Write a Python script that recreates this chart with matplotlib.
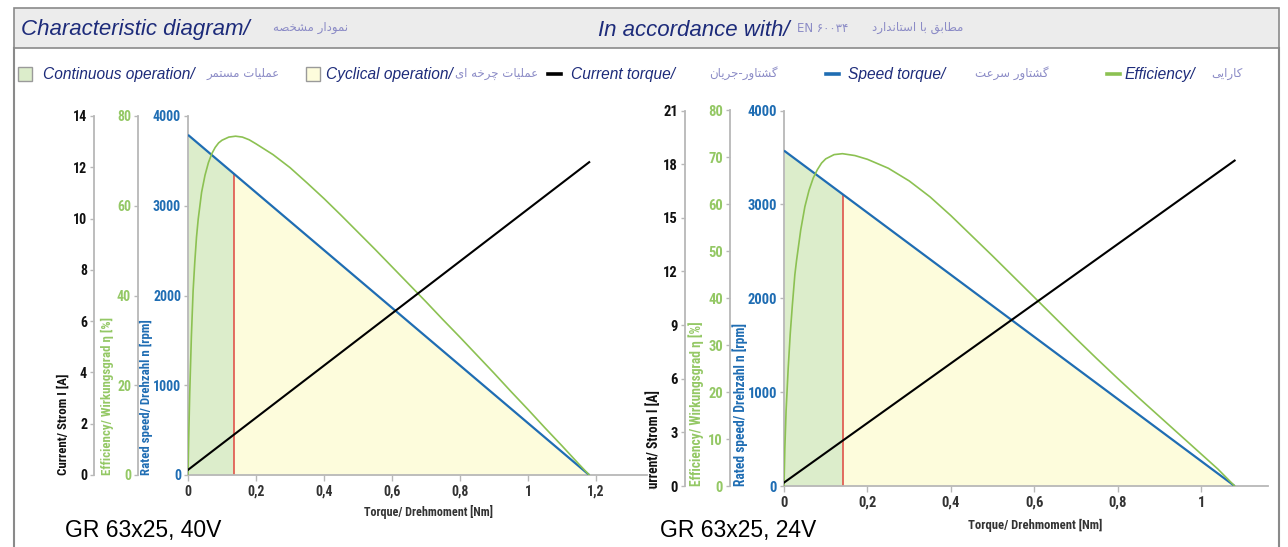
import matplotlib
matplotlib.use('Agg')
import matplotlib.pyplot as plt
import numpy as np
from matplotlib.patches import Rectangle
from matplotlib.lines import Line2D
from matplotlib.transforms import Bbox

# ---------------- data ----------------
# GR 63x25, 40V
speed_T_40 = [0, 1.18]
speed_40 = [3790, 0]
current_T_40 = [0, 1.18]
current_40 = [0.2, 12.2]
eff_T_40 = [0, 0.002, 0.005, 0.01, 0.015, 0.02, 0.025, 0.03, 0.04, 0.05, 0.06, 0.07, 0.08, 0.09,
            0.1, 0.12, 0.14, 0.16, 0.18, 0.2, 0.25, 0.3, 0.35, 0.4, 0.45, 0.5, 0.55, 0.6,
            0.65, 0.7, 0.75, 0.8, 0.85, 0.9, 0.95, 1.0, 1.05, 1.1, 1.15, 1.18]
eff_40 = [0, 8, 18, 31, 41, 47.5, 53, 57, 63, 66.8, 69.6, 71.6, 73, 74,
          74.6, 75.3, 75.5, 75.3, 74.7, 73.8, 71.4, 68.5, 65.1, 61.6, 57.9, 54.1, 50.3, 46.4,
          42.5, 38.6, 34.6, 30.7, 26.7, 22.7, 18.6, 14.6, 10.5, 6.5, 2.4, 0]
red_T_40 = 0.135

# GR 63x25, 24V
speed_T_24 = [0, 1.08]
speed_24 = [3573, 0]
current_T_24 = [0, 1.08]
current_24 = [0.19, 18.2]
eff_T_24 = [0, 0.002, 0.005, 0.01, 0.015, 0.02, 0.026, 0.03, 0.04, 0.05, 0.06, 0.07, 0.08, 0.09,
            0.1, 0.12, 0.14, 0.17, 0.2, 0.25, 0.3, 0.35, 0.4, 0.45, 0.5, 0.55, 0.6, 0.65,
            0.7, 0.75, 0.8, 0.85, 0.9, 0.95, 1.0, 1.04, 1.08]
eff_24 = [0, 8, 16, 25, 32.5, 38.5, 45, 48, 54.5, 59.5, 63, 65.6, 67.4, 68.8,
          69.7, 70.6, 70.8, 70.4, 69.6, 67.7, 65.0, 61.6, 57.6, 53.3, 49.0, 44.6, 40.2, 35.8,
          31.4, 27.1, 22.9, 18.8, 14.8, 10.8, 6.8, 3.6, 0]
red_T_24 = 0.142

x_ticks_40 = [0, 0.2, 0.4, 0.6, 0.8, 1.0, 1.2]
x_labels_40 = ['0', '0,2', '0,4', '0,6', '0,8', '1', '1,2']
x_ticks_24 = [0, 0.2, 0.4, 0.6, 0.8, 1.0]
x_labels_24 = ['0', '0,2', '0,4', '0,6', '0,8', '1']
speed_ticks = [0, 1000, 2000, 3000, 4000]
eff_ticks_40 = [0, 20, 40, 60, 80]
eff_ticks_24 = [0, 10, 20, 30, 40, 50, 60, 70, 80]
cur_ticks_40 = [0, 2, 4, 6, 8, 10, 12, 14]
cur_ticks_24 = [0, 3, 6, 9, 12, 15, 18, 21]

# ---------------- persian shaping (presentation forms, visual order) ----------------
FORMS = {
    'ا': ('\uFE8D', '\uFE8E'), 'د': ('\uFEA9', '\uFEAA'), 'ر': ('\uFEAD', '\uFEAE'),
    'و': ('\uFEED', '\uFEEE'),
    'ب': ('\uFE8F', '\uFE90', '\uFE91', '\uFE92'), 'ت': ('\uFE95', '\uFE96', '\uFE97', '\uFE98'),
    'ج': ('\uFE9D', '\uFE9E', '\uFE9F', '\uFEA0'), 'چ': ('\uFB7A', '\uFB7B', '\uFB7C', '\uFB7D'),
    'خ': ('\uFEA5', '\uFEA6', '\uFEA7', '\uFEA8'), 'س': ('\uFEB1', '\uFEB2', '\uFEB3', '\uFEB4'),
    'ش': ('\uFEB5', '\uFEB6', '\uFEB7', '\uFEB8'), 'ص': ('\uFEB9', '\uFEBA', '\uFEBB', '\uFEBC'),
    'ط': ('\uFEC1', '\uFEC2', '\uFEC3', '\uFEC4'), 'ع': ('\uFEC9', '\uFECA', '\uFECB', '\uFECC'),
    'ق': ('\uFED5', '\uFED6', '\uFED7', '\uFED8'), 'ک': ('\uFB8E', '\uFB8F', '\uFB90', '\uFB91'),
    'گ': ('\uFB92', '\uFB93', '\uFB94', '\uFB95'), 'ل': ('\uFEDD', '\uFEDE', '\uFEDF', '\uFEE0'),
    'م': ('\uFEE1', '\uFEE2', '\uFEE3', '\uFEE4'), 'ن': ('\uFEE5', '\uFEE6', '\uFEE7', '\uFEE8'),
    'ه': ('\uFEE9', '\uFEEA', '\uFEEB', '\uFEEC'), 'ی': ('\uFBFC', '\uFBFD', '\uFBFE', '\uFBFF'),
}


def fa(s):
    s = s.replace('\u064A', '\u06CC').replace('\u0643', '\u06A9')
    out = []
    for i, c in enumerate(s):
        if c not in FORMS:
            out.append(c)
            continue
        prev = s[i - 1] if i > 0 else ''
        nxt = s[i + 1] if i + 1 < len(s) else ''
        jp = prev in FORMS and len(FORMS[prev]) == 4
        jn = len(FORMS[c]) == 4 and nxt in FORMS
        f = FORMS[c]
        if len(f) == 2:
            out.append(f[1] if jp else f[0])
        elif jp and jn:
            out.append(f[3])
        elif jp:
            out.append(f[1])
        elif jn:
            out.append(f[2])
        else:
            out.append(f[0])
    return ''.join(reversed(out))


# ---------------- figure ----------------
W, H = 1288, 547
fig = plt.figure(figsize=(W / 100, H / 100), dpi=100)
fig.patch.set_facecolor('white')


def fx(x):
    return x / W


def fy(y):
    return 1 - y / H


NAVY = '#1d2b7a'
LAV = '#8b8bc6'
GREEN = '#8cc152'
GREEN_T = '#94c865'
BLUE = '#1f6db3'
RED = '#e0473f'
GFILL = '#dcedcb'
YFILL = '#fdfcdc'
SPINE = '#b8b8b8'
FRAME = '#8a8a8a'
NARROW = ['Liberation Sans Narrow', 'Roboto Condensed', 'Liberation Sans', 'DejaVu Sans']
FA = ['DejaVu Sans']
EN = ['Liberation Sans', 'DejaVu Sans']

# frame and header band
fig.add_artist(Rectangle((fx(14), fy(48)), (1279 - 14) / W, 40 / H, transform=fig.transFigure,
                         facecolor='#ececec', edgecolor=FRAME, lw=1.2))
fig.add_artist(Line2D([fx(14), fx(14)], [fy(48), 0], transform=fig.transFigure, color=FRAME, lw=1.5))
fig.add_artist(Line2D([fx(1279), fx(1279)], [fy(48), 0], transform=fig.transFigure, color=FRAME, lw=1.5))

# header texts
fig.text(fx(21), fy(30), 'Characteristic diagram/', family=EN, style='italic', fontsize=16,
         color=NAVY, ha='left', va='center')
fig.text(fx(273), fy(27), fa('نمودار مشخصه'), family=FA, fontsize=8.5, color=LAV, ha='left', va='center')
fig.text(fx(598), fy(30), 'In accordance with/', family=EN, style='italic', fontsize=16,
         color=NAVY, ha='left', va='center')
fig.text(fx(797), fy(28), 'EN ۶۰۰۳۴', family=FA, fontsize=8.5, color=LAV, ha='left', va='center')
fig.text(fx(872), fy(27), fa('مطابق با استاندارد'), family=FA, fontsize=8.5, color=LAV,
         ha='left', va='center')

# legend row
LY = 74


def box(x0, color):
    fig.add_artist(Rectangle((fx(x0), fy(LY + 7)), 14 / W, 14 / H, transform=fig.transFigure,
                             facecolor=color, edgecolor='#9a9a9a', lw=1.0))


def dash(x0, color):
    fig.add_artist(Line2D([fx(x0), fx(x0 + 13)], [fy(LY), fy(LY)], transform=fig.transFigure,
                          color=color, lw=2.6))


def en(x, s):
    fig.text(fx(x), fy(LY), s, family=EN, style='italic', fontsize=11.2, color=NAVY, ha='left', va='center')


def pe(x, s):
    fig.text(fx(x), fy(LY - 1), fa(s), family=FA, fontsize=8.5, color=LAV, ha='left', va='center')


box(18, GFILL)
en(43, 'Continuous operation/')
pe(206, 'عملیات مستمر')
box(306, YFILL)
en(326, 'Cyclical operation/')
pe(455, 'عملیات چرخه ای')
dash(548, 'black')
en(571, 'Current torque/')
pe(709, 'گشتاور-جریان')
dash(826, BLUE)
en(848, 'Speed torque/')
pe(975, 'گشتاور سرعت')
dash(1107, GREEN)
en(1125, 'Efficiency/')
pe(1211, 'کارایی')


def style_left(axx, color, off_px, ticks, lim, fs):
    axx.set_ylim(*lim)
    for s in axx.spines.values():
        s.set_visible(False)
    axx.spines['left'].set_visible(True)
    axx.spines['left'].set_color(SPINE)
    axx.spines['left'].set_linewidth(1.3)
    axx.spines['left'].set_position(('outward', off_px * 72 / 100))
    axx.yaxis.set_ticks_position('left')
    axx.yaxis.set_label_position('left')
    axx.set_yticks(ticks)
    axx.set_yticklabels([str(t) for t in ticks])
    axx.tick_params(axis='y', length=3, width=1, color=SPINE, pad=2, labelsize=fs,
                    labelcolor=color)
    for lab in axx.get_yticklabels():
        lab.set_family(NARROW)
        lab.set_fontweight('bold')


def chart(l, r, t, b, xmax, xticks, xlabels, sT, sp, cT, cu, cmax, cticks, eT, ef, eticks, redT,
          eoff, coff, labx, laby, xlab_xy, title, title_xy, k=1.0, clip_cur=None):
    ax = fig.add_axes([fx(l), fy(b), (r - l) / W, (b - t) / H])
    ax.set_xlim(0, xmax)
    ax.patch.set_alpha(0)
    sred = float(np.interp(redT, sT, sp))
    ax.fill_between([0, redT], [sp[0], sred], 0, color=GFILL, lw=0, zorder=1)
    ax.fill_between([redT, sT[-1]], [sred, sp[-1]], 0, color=YFILL, lw=0, zorder=1)
    ax.vlines(redT, 0, sred, color=RED, lw=1.1, zorder=2)
    ax.plot(sT, sp, color=BLUE, lw=1.6, zorder=3, solid_capstyle='butt')
    tfs = 10 * k
    style_left(ax, BLUE, 0, speed_ticks, (0, 4000), tfs)
    ax.spines['bottom'].set_visible(True)
    ax.spines['bottom'].set_color(SPINE)
    ax.spines['bottom'].set_linewidth(1.3)
    ax.set_xticks(xticks)
    ax.set_xticklabels(xlabels)
    ax.tick_params(axis='x', length=4, width=1, color=SPINE, pad=3, labelsize=tfs, labelcolor='#333333')
    for lab in ax.get_xticklabels():
        lab.set_family(NARROW)
        lab.set_fontweight('bold')

    ae = ax.twinx()
    ae.plot(eT, ef, color=GREEN, lw=1.2, solid_joinstyle='round')
    style_left(ae, GREEN_T, eoff, eticks, (0, 80), tfs)

    ac = ax.twinx()
    ac.plot(cT, cu, color='black', lw=1.5)
    style_left(ac, '#111111', coff, cticks, (0, cmax), tfs)

    lfs = 9.3 * k
    tc = fig.text(fx(labx[0]), fy(laby[0]), 'Current/ Strom I [A]', rotation=90, ha='center', va='bottom',
                  family=NARROW, fontweight='bold', fontsize=lfs, color='#111111')
    if clip_cur is not None:
        tc.set_clip_box(Bbox.from_extents(0, H - clip_cur, W, H))
        tc.set_clip_on(True)
    fig.text(fx(labx[1]), fy(laby[1]), 'Efficiency/ Wirkungsgrad \u03b7 [%]', rotation=90, ha='center',
             va='bottom', family=NARROW, fontweight='bold', fontsize=lfs, color=GREEN_T)
    fig.text(fx(labx[2]), fy(laby[2]), 'Rated speed/ Drehzahl n [rpm]', rotation=90, ha='center',
             va='bottom', family=NARROW, fontweight='bold', fontsize=lfs, color=BLUE)
    fig.text(fx(xlab_xy[0]), fy(xlab_xy[1]), 'Torque/ Drehmoment [Nm]', ha='center', va='center',
             family=NARROW, fontweight='bold', fontsize=8.7 * k, color='#333333')
    fig.text(fx(title_xy[0]), fy(title_xy[1]), title, ha='left', va='center', family=EN,
             fontsize=16.5, color='black')


chart(188, 647, 116, 475, 1.35, x_ticks_40, x_labels_40, speed_T_40, speed_40, current_T_40, current_40,
      14, cur_ticks_40, eff_T_40, eff_40, eff_ticks_40, red_T_40, 50, 94,
      (63, 107, 146), (475, 475, 475), (428, 512), 'GR 63x25, 40V', (65, 530))
chart(784, 1268, 110.5, 486, 1.16, x_ticks_24, x_labels_24, speed_T_24, speed_24, current_T_24, current_24,
      21, cur_ticks_24, eff_T_24, eff_24, eff_ticks_24, red_T_24, 54, 99,
      (654, 696, 740), (496, 486, 486), (1035, 525), 'GR 63x25, 24V', (660, 530), k=1.05, clip_cur=490)

fig.savefig('out.png', dpi=100)
